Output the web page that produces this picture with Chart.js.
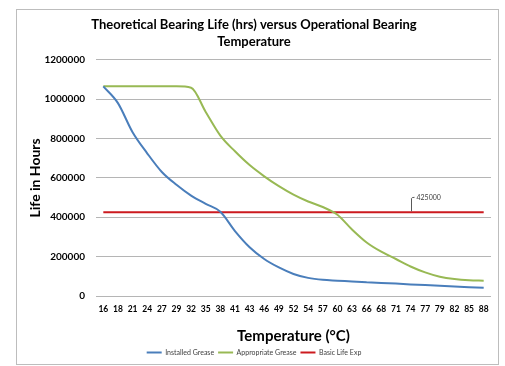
<!DOCTYPE html>
<html>
<head>
<meta charset="utf-8">
<script src="https://cdn.jsdelivr.net/npm/chart.js@4"></script>
<style>
  html, body { margin: 0; padding: 0; background: #fff; }
  canvas { display: block; }
</style>
</head>
<body>
<canvas id="bearingChart" width="505" height="366"></canvas>
<script>
// Nhiệt độ vận hành (°C) - trục X
const temps = [16, 18, 21, 24, 27, 29, 32, 35, 38, 41, 43, 46, 49, 52, 54, 57, 60, 63, 66, 68, 71, 74, 77, 79, 82, 85, 88];

// Tuổi thọ (giờ) theo từng loại mỡ
const installedGrease = [1065000, 980000, 832000, 725000, 630000, 565000, 510000, 468000, 428000, 330000, 248000, 188000, 145000, 112000, 92000, 82000, 78000, 74000, 70000, 66000, 63000, 59000, 56000, 52000, 48000, 45000, 42000];
const appropriateGrease = [1065000, 1065000, 1065000, 1065000, 1065000, 1065000, 1058000, 935000, 815000, 735000, 665000, 608000, 558000, 515000, 480000, 452000, 413000, 338000, 272000, 225000, 188000, 150000, 120000, 98000, 86000, 80000, 78000];
const basicLifeExp = [425000, 425000, 425000, 425000, 425000, 425000, 425000, 425000, 425000, 425000, 425000, 425000, 425000, 425000, 425000, 425000, 425000, 425000, 425000, 425000, 425000, 425000, 425000, 425000, 425000, 425000, 425000];

// Trục Y
const yTicks = [0, 200000, 400000, 600000, 800000, 1000000, 1200000];
const labelIndex = 21; // điểm có nhãn 425000 (74°C)

const FONT = "Lato, 'Open Sans', sans-serif";

// Khung viền + nền trắng
const framePlugin = {
    id: 'frame',
    beforeDraw(chart) {
        const ctx = chart.ctx;
        ctx.save();
        ctx.fillStyle = '#fff';
        ctx.fillRect(0, 0, chart.width, chart.height);
        ctx.strokeStyle = '#bdbdbd';
        ctx.lineWidth = 1;
        ctx.strokeRect(16.5, 9.5, 482, 355);
        ctx.restore();
    }
};

// Nhãn dữ liệu 425000 với đường dẫn
const labelPlugin = {
    id: 'dataLabel',
    afterDatasetsDraw(chart) {
        const meta = chart.getDatasetMeta(2);
        const pt = meta.data[labelIndex];
        if (!pt) return;
        const ctx = chart.ctx;
        const x = Math.round(pt.x) + 0.5;
        const y = pt.y;
        ctx.save();
        ctx.strokeStyle = '#595959';
        ctx.lineWidth = 1;
        ctx.beginPath();
        ctx.moveTo(x, y - 1);
        ctx.lineTo(x, y - 14);
        ctx.quadraticCurveTo(x, y - 15, x + 3, y - 15);
        ctx.stroke();
        ctx.fillStyle = '#404040';
        ctx.font = '7px ' + FONT;
        ctx.textBaseline = 'middle';
        ctx.fillText(String(basicLifeExp[labelIndex]), x + 5, y - 15);
        ctx.restore();
    }
};

new Chart(document.getElementById('bearingChart').getContext('2d'), {
    type: 'line',
    data: {
        labels: temps,
        datasets: [
            {
                label: 'Installed Grease',
                data: installedGrease,
                borderColor: '#4A7EBB',
                backgroundColor: '#4A7EBB',
                borderWidth: 2,
                pointRadius: 0,
                cubicInterpolationMode: 'monotone'
            },
            {
                label: 'Appropriate Grease',
                data: appropriateGrease,
                borderColor: '#98B954',
                backgroundColor: '#98B954',
                borderWidth: 2,
                pointRadius: 0,
                cubicInterpolationMode: 'monotone'
            },
            {
                label: 'Basic Life Exp',
                data: basicLifeExp,
                borderColor: '#CC1A1F',
                backgroundColor: '#CC1A1F',
                borderWidth: 2,
                pointRadius: 0
            }
        ]
    },
    options: {
        responsive: false,
        animation: false,
        layout: { padding: { left: 17, right: 14, top: 0, bottom: 0 } },
        scales: {
            x: {
                offset: true,
                grid: { display: false, drawTicks: false },
                border: { display: false },
                ticks: {
                    color: '#000',
                    font: { family: FONT, size: 8.5, weight: 'bold' },
                    padding: 8,
                    autoSkip: false,
                    maxRotation: 0
                },
                title: {
                    display: true,
                    text: 'Temperature (°C)',
                    color: '#000',
                    font: { family: FONT, size: 15, weight: 'bold' },
                    padding: { top: 0, bottom: 0 }
                },
                afterFit(scale) { scale.height = 49; }
            },
            y: {
                min: yTicks[0],
                max: yTicks[yTicks.length - 1],
                afterBuildTicks(scale) { scale.ticks = yTicks.map(v => ({ value: v })); },
                grid: { color: '#b5b5b5', lineWidth: 1, drawTicks: false },
                border: { display: false },
                ticks: {
                    color: '#000',
                    font: { family: FONT, size: 10, weight: 'bold' },
                    padding: 11,
                    callback: v => String(v)
                },
                title: {
                    display: true,
                    text: 'Life in Hours',
                    color: '#000',
                    font: { family: FONT, size: 14, weight: 'bold' },
                    padding: { top: 10, bottom: 0 }
                },
                afterFit(scale) { scale.width = 79; }
            }
        },
        plugins: {
            title: {
                display: true,
                text: ['Theoretical Bearing Life (hrs) versus Operational Bearing', 'Temperature'],
                color: '#000',
                font: { family: FONT, size: 13, weight: 'bold', lineHeight: 1.3 },
                padding: { top: 16, bottom: 10 }
            },
            legend: {
                position: 'bottom',
                labels: {
                    usePointStyle: true,
                    pointStyle: 'line',
                    pointStyleWidth: 15,
                    color: '#404040',
                    font: { family: FONT, size: 7 },
                    padding: 4
                }
            },
            tooltip: { enabled: false }
        }
    },
    plugins: [framePlugin, labelPlugin]
});
</script>
</body>
</html>
